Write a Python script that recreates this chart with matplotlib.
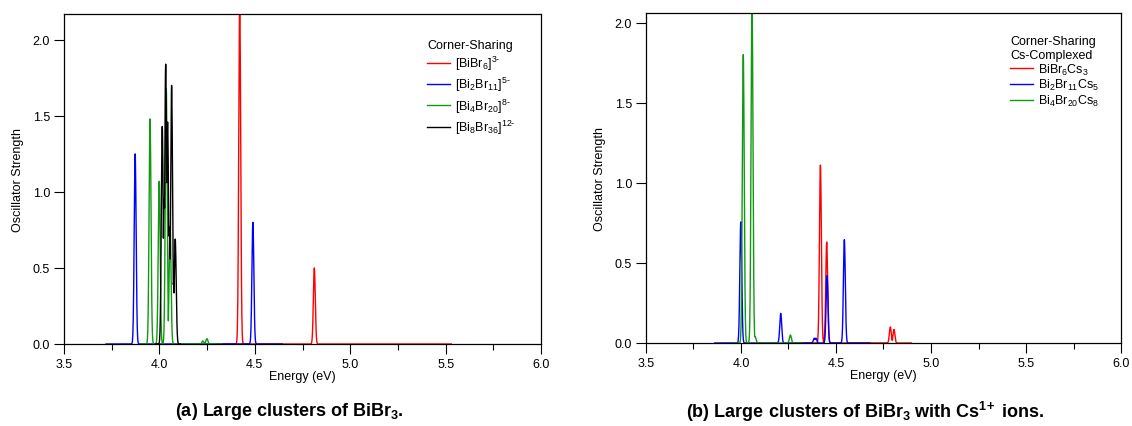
import numpy as np
import matplotlib
matplotlib.use("Agg")
from matplotlib import pyplot as plt
from matplotlib.ticker import MultipleLocator, FormatStrFormatter

plt.rcParams['font.family'] = ['Liberation Sans', 'DejaVu Sans']
plt.rcParams['mathtext.fontset'] = 'custom'
plt.rcParams['mathtext.rm'] = 'Liberation Sans'
plt.rcParams['mathtext.it'] = 'Liberation Sans:italic'
plt.rcParams['mathtext.bf'] = 'Liberation Sans:bold'
plt.rcParams['mathtext.default'] = 'regular'

# (a) peak energies (eV) and oscillator strengths
bibr6_range = (4.30, 5.53)
bibr6_e = [4.421, 4.812]
bibr6_f = [2.25, 0.50]

bi2br11_range = (3.72, 4.645)
bi2br11_e = [3.873, 4.490]
bi2br11_f = [1.25, 0.80]

bi4br20_range = (3.90, 4.33)
bi4br20_e = [3.951, 3.999, 4.036, 4.056, 4.228, 4.249]
bi4br20_f = [1.48, 1.07, 1.68, 0.77, 0.02, 0.035]

bi8br36_range = (3.98, 4.11)
bi8br36_e = [4.015, 4.025, 4.033, 4.043, 4.052, 4.064, 4.074, 4.083]
bi8br36_f = [1.43, 0.95, 1.84, 1.46, 0.77, 1.70, 0.40, 0.69]

# (b) Cs-complexed clusters
bibr6cs3_range = (4.30, 4.897)
bibr6cs3_e = [4.418, 4.451, 4.786, 4.805]
bibr6cs3_f = [1.11, 0.63, 0.10, 0.085]

bi2br11cs5_range = (3.862, 4.68)
bi2br11cs5_e = [3.999, 4.209, 4.386, 4.394, 4.453, 4.544]
bi2br11cs5_f = [0.756, 0.185, 0.03, 0.03, 0.42, 0.645]

bi4br20cs8_range = (3.95, 4.325)
bi4br20cs8_e = [4.012, 4.058, 4.074, 4.260]
bi4br20cs8_f = [1.80, 2.15, 0.04, 0.05]

RED = '#ff0000'
BLUE = '#0000ff'
GREEN = '#119911'


def spectrum(rng, energies, strengths, sigma=0.005, step=0.001):
    # broaden the stick spectrum with narrow gaussians
    x = np.arange(rng[0], rng[1], step)
    e = np.array(energies)[:, None]
    f = np.array(strengths)[:, None]
    y = np.max(f * np.exp(-(x - e) ** 2 / (2 * sigma ** 2)), axis=0)
    return x, y


def style_axes(ax, ytop):
    ax.set_xlim(3.5, 6.0)
    ax.set_ylim(0, ytop)
    ax.xaxis.set_major_locator(MultipleLocator(0.5))
    ax.xaxis.set_minor_locator(MultipleLocator(0.25))
    ax.yaxis.set_major_locator(MultipleLocator(0.5))
    ax.xaxis.set_major_formatter(FormatStrFormatter('%.1f'))
    ax.yaxis.set_major_formatter(FormatStrFormatter('%.1f'))
    ax.tick_params(axis='both', which='major', direction='out', length=7,
                   width=0.8, labelsize=9, pad=3)
    ax.tick_params(axis='x', which='minor', direction='out', length=4, width=0.8)
    for s in ax.spines.values():
        s.set_linewidth(0.9)
    ax.set_xlabel('Energy (eV)', fontsize=9, labelpad=0)
    ax.set_ylabel('Oscillator Strength', fontsize=9, labelpad=6)


fig = plt.figure(figsize=(11.32, 4.27), dpi=100)
ax1 = fig.add_axes([64 / 1132, 82 / 427, 477 / 1132, 330 / 427])
ax2 = fig.add_axes([646 / 1132, 83 / 427, 475 / 1132, 330 / 427])

# panel (a)
for rng, e, f, c, lab in [
        (bibr6_range, bibr6_e, bibr6_f, RED, r'[BiBr$_6$]$^{\text{3-}}$'),
        (bi2br11_range, bi2br11_e, bi2br11_f, BLUE, r'[Bi$_2$Br$_{11}$]$^{\text{5-}}$'),
        (bi4br20_range, bi4br20_e, bi4br20_f, GREEN, r'[Bi$_4$Br$_{20}$]$^{\text{8-}}$'),
        (bi8br36_range, bi8br36_e, bi8br36_f, 'black', r'[Bi$_8$Br$_{36}$]$^{\text{12-}}$')]:
    x, y = spectrum(rng, e, f)
    ax1.plot(x, y, color=c, lw=1.0, label=lab)
style_axes(ax1, 2.17)
ax1.legend(loc='upper left', bbox_to_anchor=(0.751, 0.94), frameon=False,
           title='Corner-Sharing', fontsize=9, title_fontsize=9,
           handlelength=1.85, handletextpad=0.4, labelspacing=0.25,
           alignment='left', borderaxespad=0)

# panel (b)
for rng, e, f, c, lab in [
        (bibr6cs3_range, bibr6cs3_e, bibr6cs3_f, RED, r'BiBr$_6$Cs$_3$'),
        (bi2br11cs5_range, bi2br11cs5_e, bi2br11cs5_f, BLUE, r'Bi$_2$Br$_{11}$Cs$_5$'),
        (bi4br20cs8_range, bi4br20cs8_e, bi4br20cs8_f, GREEN, r'Bi$_4$Br$_{20}$Cs$_8$')]:
    x, y = spectrum(rng, e, f)
    ax2.plot(x, y, color=c, lw=1.0, label=lab)
style_axes(ax2, 2.06)
ax2.legend(loc='upper left', bbox_to_anchor=(0.756, 0.948), frameon=False,
           title='Corner-Sharing\nCs-Complexed', fontsize=9, title_fontsize=9,
           handlelength=1.85, handletextpad=0.4, labelspacing=0.05,
           alignment='left', borderaxespad=0)

fig.text(289 / 1132, 1 - 412 / 427, r'(a) Large clusters of BiBr$_\mathbf{3}$.',
         ha='center', va='center', fontsize=13, fontweight='bold')
fig.text(865 / 1132, 1 - 412 / 427,
         r'(b) Large clusters of BiBr$_\mathbf{3}$ with Cs$^\mathbf{1\!+}$ ions.',
         ha='center', va='center', fontsize=13, fontweight='bold')

fig.savefig('out.png', dpi=100)
